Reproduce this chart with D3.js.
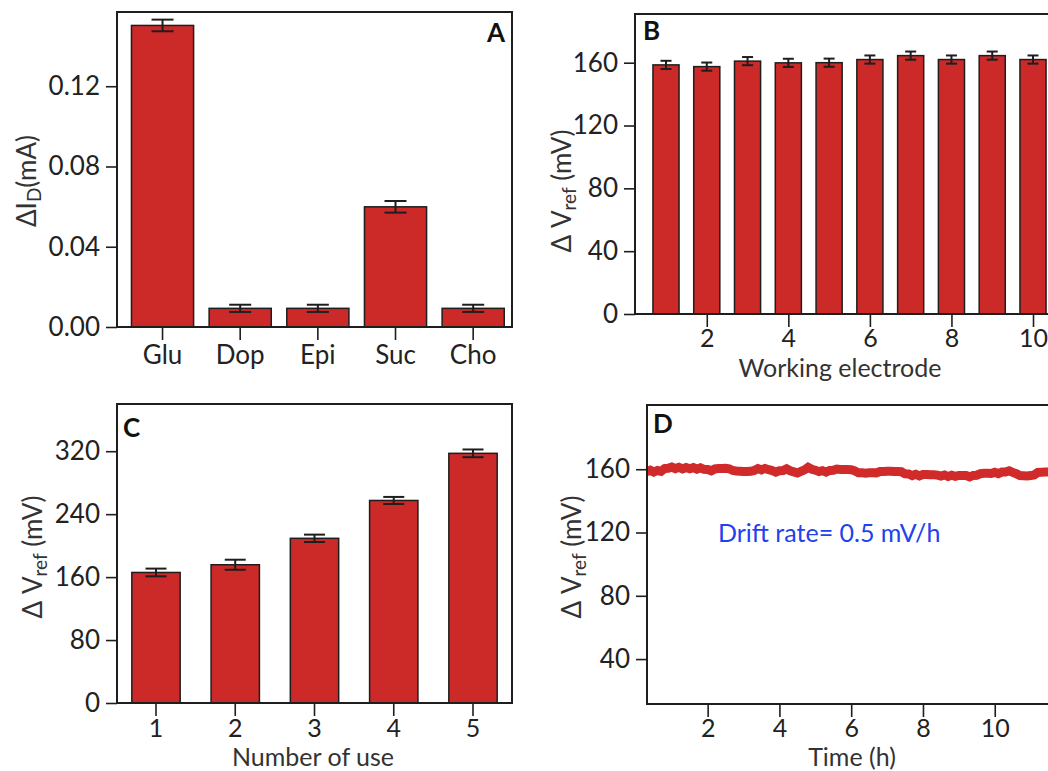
<!DOCTYPE html>
<html>
<head>
<meta charset="utf-8">
<script src="https://cdn.jsdelivr.net/npm/d3@7"></script>
<style>
  html, body { margin: 0; padding: 0; background: #fff; }
  svg { display: block; }
  text { font-family: Lato, "Open Sans", sans-serif; }
</style>
</head>
<body>
<svg id="chart" width="1048" height="771"></svg>
<script>
// ---------- DATA ----------
// Panel A: selectivity
const analytes = ["Glu", "Dop", "Epi", "Suc", "Cho"];
const currentValues = [0.1503, 0.0093, 0.0093, 0.0599, 0.0093];
const currentErrors = [0.0029, 0.0018, 0.0018, 0.0029, 0.0018];
const currentTicks = [0.00, 0.04, 0.08, 0.12];

// Panel B: working electrodes
const electrodes = [1, 2, 3, 4, 5, 6, 7, 8, 9, 10];
const electrodeValues = [158.6, 157.5, 161.0, 159.9, 160.0, 162.0, 164.5, 162.0, 164.5, 162.0];
const electrodeErrors = [2.6, 2.6, 2.6, 2.6, 2.6, 2.6, 2.6, 2.6, 2.6, 2.6];
const electrodeXTicks = [2, 4, 6, 8, 10];
const electrodeYTicks = [0, 40, 80, 120, 160];

// Panel C: number of use
const uses = ["1", "2", "3", "4", "5"];
const useValues = [165.9, 175.7, 209.3, 257.4, 317.3];
const useErrors = [4.9, 6.4, 4.7, 4.5, 4.9];
const useYTicks = [0, 80, 160, 240, 320];

// Panel D: drift over time
const driftTime = [0.3,0.4,0.5,0.6,0.7,0.8,0.9,1.0,1.1,1.2,1.3,1.4,1.5,1.6,1.7,1.8,1.9,2.0,
  2.1,2.2,2.3,2.4,2.5,2.6,2.7,2.8,2.9,3.0,3.1,3.2,3.3,3.4,3.5,3.6,3.7,3.8,3.9,4.0,
  4.1,4.2,4.3,4.4,4.5,4.6,4.7,4.8,4.9,5.0,5.1,5.2,5.3,5.4,5.5,5.6,5.7,5.8,5.9,6.0,
  6.1,6.2,6.3,6.4,6.5,6.6,6.7,6.8,6.9,7.0,7.1,7.2,7.3,7.4,7.5,7.6,7.7,7.8,7.9,8.0,
  8.1,8.2,8.3,8.4,8.5,8.6,8.7,8.8,8.9,9.0,9.1,9.2,9.3,9.4,9.5,9.6,9.7,9.8,9.9,10.0,
  10.1,10.2,10.3,10.4,10.5,10.6,10.7,10.8,10.9,11.0,11.1,11.2,11.3,11.4,11.5,11.6,11.7,11.8,11.9];
const driftValue = [158.4,159.4,158.2,159.2,158.6,160.4,160.6,161.4,160.4,161.2,160.2,161.1,160.3,161.0,160.0,160.9,159.9,159.8,
  159.0,160.2,160.4,160.5,160.6,160.3,159.2,158.9,158.7,158.5,158.6,158.7,159.2,160.4,159.6,160.5,159.7,159.1,158.2,159.0,
  159.1,160.2,159.0,158.3,157.6,158.6,159.6,161.2,160.0,159.4,158.5,159.1,158.2,159.2,159.3,160.1,159.9,159.9,159.8,159.7,
  159.0,157.7,157.7,157.5,157.8,157.8,157.7,158.6,158.6,158.7,158.7,158.6,158.5,158.4,157.1,157.0,156.0,156.8,155.8,156.7,
  156.7,156.5,156.5,156.3,155.7,156.4,155.4,156.2,155.5,156.1,156.1,156.0,155.2,156.1,156.2,157.2,157.4,157.4,157.3,158.1,
  157.2,158.2,158.2,159.0,158.0,157.2,156.0,155.9,155.8,156.0,156.4,158.0,158.1,158.2,158.2,158.3,158.0,158.1,158.1];
const driftXTicks = [2, 4, 6, 8, 10];
const driftYTicks = [40, 80, 120, 160];

// ---------- STYLE ----------
const BAR_FILL = "#cc2929";
const LINE_COL = "#d02a2a";
const INK = "#1e1e1e";
const LABEL_INK = "#333";
const FS = "26px";
const FSX = "25px";

const svg = d3.select("#chart");

function styleAxis(g, size) {
  g.select(".domain").remove();
  g.selectAll(".tick line").attr("stroke", INK).attr("stroke-width", 1.6);
  g.selectAll(".tick text").attr("fill", "#222").style("font-size", size || FS)
    .style("font-family", "Lato, 'Open Sans', sans-serif");
}

function frame(f) {
  svg.append("rect")
    .attr("x", f.x0).attr("y", f.y0)
    .attr("width", f.x1 - f.x0).attr("height", f.y1 - f.y0)
    .attr("fill", "none").attr("stroke", INK).attr("stroke-width", 2);
}

function errorBars(data, xc, y, cap) {
  const g = svg.append("g").attr("stroke", INK).attr("stroke-width", 2).attr("fill", "none");
  data.forEach(d => {
    const cx = xc(d);
    g.append("line").attr("x1", cx).attr("x2", cx).attr("y1", y(d.v - d.e)).attr("y2", y(d.v + d.e));
    g.append("line").attr("x1", cx - cap / 2).attr("x2", cx + cap / 2).attr("y1", y(d.v - d.e)).attr("y2", y(d.v - d.e));
    g.append("line").attr("x1", cx - cap / 2).attr("x2", cx + cap / 2).attr("y1", y(d.v + d.e)).attr("y2", y(d.v + d.e));
  });
}

function yLabel(x, y, main, sub, rest) {
  const t = svg.append("text")
    .attr("transform", `translate(${x},${y}) rotate(-90)`)
    .attr("text-anchor", "middle").attr("fill", LABEL_INK)
    .style("font-size", FS);
  t.append("tspan").text(main);
  t.append("tspan").text(sub).style("font-size", "19px").attr("dy", 5);
  t.append("tspan").text(rest).attr("dy", -5);
}

function xTitle(x, y, s) {
  svg.append("text").attr("x", x).attr("y", y).attr("text-anchor", "middle")
    .attr("fill", LABEL_INK).style("font-size", FSX).text(s);
}

function panelLetter(x, y, s) {
  svg.append("text").attr("x", x).attr("y", y).text(s)
    .attr("fill", "#111").style("font-size", "26px").style("font-weight", "bold");
}

// ---------- PANEL A ----------
{
  const f = { x0: 117, y0: 12, x1: 512, y1: 327 };
  const x = d3.scaleBand().domain(analytes).range([123.7, 512]).paddingInner(0.2).paddingOuter(0.1);
  const y = d3.scaleLinear().domain([0, 0.157]).range([f.y1, f.y0]);
  const data = analytes.map((c, i) => ({ c, v: currentValues[i], e: currentErrors[i] }));
  svg.append("g").selectAll("rect").data(data).join("rect")
    .attr("x", d => x(d.c)).attr("width", x.bandwidth())
    .attr("y", d => y(d.v)).attr("height", d => y(0) - y(d.v))
    .attr("fill", BAR_FILL).attr("stroke", INK).attr("stroke-width", 1.5);
  errorBars(data, d => x(d.c) + x.bandwidth() / 2, y, 22);
  svg.append("g").attr("transform", `translate(${f.x0},0)`)
    .call(d3.axisLeft(y).tickValues(currentTicks).tickFormat(d3.format(".2f")).tickSize(11).tickPadding(6))
    .call(styleAxis);
  svg.append("g").attr("transform", `translate(0,${f.y1})`)
    .call(d3.axisBottom(x).tickSize(13).tickPadding(6))
    .call(g => styleAxis(g, FS));
  frame(f);
  yLabel(36, 181, "ΔI", "D", "(mA)");
  panelLetter(487, 42, "A");
}

// ---------- PANEL B ----------
{
  const f = { x0: 635, y0: 14, x1: 1064, y1: 314 };
  const x = d3.scaleLinear().domain([0.24, 10.76]).range([f.x0, f.x1]);
  const y = d3.scaleLinear().domain([0, 191]).range([f.y1, f.y0]);
  const data = electrodes.map((c, i) => ({ c, v: electrodeValues[i], e: electrodeErrors[i] }));
  const half = 0.32;
  svg.append("g").selectAll("rect").data(data).join("rect")
    .attr("x", d => x(d.c - half)).attr("width", d => x(d.c + half) - x(d.c - half))
    .attr("y", d => y(d.v)).attr("height", d => y(0) - y(d.v))
    .attr("fill", BAR_FILL).attr("stroke", INK).attr("stroke-width", 1.5);
  errorBars(data, d => x(d.c), y, 11);
  svg.append("g").attr("transform", `translate(${f.x0},0)`)
    .call(d3.axisLeft(y).tickValues(electrodeYTicks).tickSize(11).tickPadding(6))
    .call(styleAxis);
  svg.append("g").attr("transform", `translate(0,${f.y1})`)
    .call(d3.axisBottom(x).tickValues(electrodeXTicks).tickSize(13).tickPadding(2))
    .call(g => styleAxis(g, FSX));
  frame(f);
  yLabel(571, 191, "Δ V", "ref", " (mV)");
  xTitle(840, 377, "Working electrode");
  panelLetter(643, 40, "B");
}

// ---------- PANEL C ----------
{
  const f = { x0: 117, y0: 404, x1: 512, y1: 703 };
  const x = d3.scaleBand().domain(uses).range([f.x0, f.x1]).paddingInner(0.39).paddingOuter(0.187);
  const y = d3.scaleLinear().domain([0, 380]).range([f.y1, f.y0]);
  const data = uses.map((c, i) => ({ c, v: useValues[i], e: useErrors[i] }));
  svg.append("g").selectAll("rect").data(data).join("rect")
    .attr("x", d => x(d.c)).attr("width", x.bandwidth())
    .attr("y", d => y(d.v)).attr("height", d => y(0) - y(d.v))
    .attr("fill", BAR_FILL).attr("stroke", INK).attr("stroke-width", 1.5);
  errorBars(data, d => x(d.c) + x.bandwidth() / 2, y, 21);
  svg.append("g").attr("transform", `translate(${f.x0},0)`)
    .call(d3.axisLeft(y).tickValues(useYTicks).tickSize(11).tickPadding(6))
    .call(styleAxis);
  svg.append("g").attr("transform", `translate(0,${f.y1})`)
    .call(d3.axisBottom(x).tickSize(13).tickPadding(3))
    .call(g => styleAxis(g, FSX));
  frame(f);
  yLabel(42, 557, "Δ V", "ref", " (mV)");
  xTitle(313, 766, "Number of use");
  panelLetter(123, 437, "C");
}

// ---------- PANEL D ----------
{
  const f = { x0: 647, y0: 405, x1: 1064, y1: 704 };
  const x = d3.scaleLinear().domain([0.31, 11.93]).range([f.x0, f.x1]);
  const y = d3.scaleLinear().domain([11.6, 200.6]).range([f.y1, f.y0]);
  const pts = driftTime.map((t, i) => [t, driftValue[i]]);
  svg.append("defs").append("clipPath").attr("id", "clipD")
    .append("rect").attr("x", f.x0).attr("y", f.y0).attr("width", f.x1 - f.x0).attr("height", f.y1 - f.y0);
  svg.append("path").datum(pts)
    .attr("clip-path", "url(#clipD)")
    .attr("d", d3.line().x(d => x(d[0])).y(d => y(d[1])))
    .attr("fill", "none").attr("stroke", LINE_COL).attr("stroke-width", 9)
    .attr("stroke-linejoin", "miter").attr("stroke-miterlimit", 10);
  svg.append("g").attr("transform", `translate(${f.x0},0)`)
    .call(d3.axisLeft(y).tickValues(driftYTicks).tickSize(11).tickPadding(6))
    .call(styleAxis);
  svg.append("g").attr("transform", `translate(0,${f.y1})`)
    .call(d3.axisBottom(x).tickValues(driftXTicks).tickSize(13).tickPadding(2))
    .call(g => styleAxis(g, FSX));
  frame(f);
  yLabel(581, 557, "Δ V", "ref", " (mV)");
  xTitle(852, 766, "Time (h)");
  svg.append("text").attr("x", 718).attr("y", 542)
    .attr("fill", "#2242ee").style("font-size", "25px").text("Drift rate= 0.5 mV/h");
  panelLetter(653, 433, "D");
}
</script>
</body>
</html>
